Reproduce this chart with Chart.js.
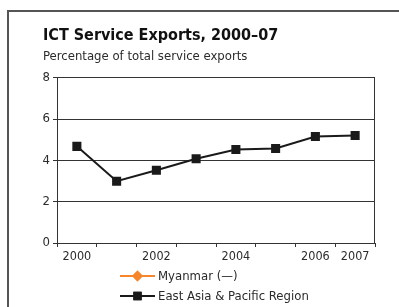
<!DOCTYPE html>
<html>
<head>
<meta charset="utf-8">
<script src="https://cdn.jsdelivr.net/npm/chart.js@4"></script>
<style>
  html, body { margin: 0; padding: 0; background: #fff; }
  #wrap { position: relative; width: 399px; height: 307px; overflow: hidden; }
  #frame { position: absolute; left: 7px; top: 10px; width: 400px; height: 320px;
           border-left: 2px solid #555; border-top: 2px solid #555; box-sizing: border-box; }
  canvas { position: absolute; left: 0; top: 0; }
</style>
</head>
<body>
<div id="wrap">
  <div id="frame"></div>
  <canvas id="c" width="399" height="307"></canvas>
</div>
<script>
const titleText = 'ICT Service Exports, 2000–07';
const subtitleText = 'Percentage of total service exports';
const years = ['2000', '2001', '2002', '2003', '2004', '2005', '2006', '2007'];
const shownYears = ['2000', '2002', '2004', '2006', '2007'];
const myanmarLabel = 'Myanmar (—)';
const myanmarValues = [null, null, null, null, null, null, null, null];
const eapLabel = 'East Asia & Pacific Region';
const eapValues = [4.68, 2.99, 3.52, 4.08, 4.53, 4.58, 5.16, 5.21];
const yTicks = [0, 2, 4, 6, 8];

const FONT = "'Liberation Sans Narrow', 'DejaVu Sans Condensed', 'Liberation Sans', sans-serif";
const TXT = '#2b2b2b';

const framePlugin = {
  id: 'frame',
  beforeDatasetsDraw(chart) {
    const a = chart.chartArea, ctx = chart.ctx, ys = chart.scales.y;
    const x = Math.round(a.right) - 0.5;
    ctx.save();
    ctx.strokeStyle = '#333';
    ctx.lineWidth = 1;
    ctx.beginPath();
    ctx.moveTo(x, ys.getPixelForValue(ys.max));
    ctx.lineTo(x, ys.getPixelForValue(ys.min));
    ctx.stroke();
    ctx.restore();
  }
};

const legendPlugin = {
  id: 'lineLegend',
  afterDraw(chart) {
    const ctx = chart.ctx, a = chart.chartArea;
    const x0 = a.left + 63, x1 = x0 + 35, tx = x1 + 3;
    chart.data.datasets.forEach((ds, i) => {
      const y = Math.round(a.bottom + 33 + i * 20);
      ctx.save();
      ctx.strokeStyle = ds.borderColor;
      ctx.lineWidth = 2;
      ctx.beginPath(); ctx.moveTo(x0, y); ctx.lineTo(x1, y); ctx.stroke();
      Chart.helpers.drawPoint(ctx, {
        pointStyle: ds.pointStyle, radius: ds.pointRadius - 0.5, rotation: 0,
        borderWidth: 1
      }, (x0 + x1) / 2, y);
      ctx.fillStyle = ds.pointBackgroundColor;
      ctx.strokeStyle = ds.pointBorderColor;
      ctx.fill(); ctx.stroke();
      ctx.fillStyle = TXT;
      ctx.font = '13px ' + FONT;
      ctx.textAlign = 'left';
      ctx.textBaseline = 'middle';
      ctx.fillText(ds.label, tx, y + 1);
      ctx.restore();
    });
  }
};

new Chart(document.getElementById('c'), {
  type: 'line',
  data: {
    labels: years,
    datasets: [
      {
        label: myanmarLabel, data: myanmarValues,
        borderColor: '#f7862a', backgroundColor: '#f7862a',
        pointStyle: 'rectRot', pointRadius: 4.5,
        pointBackgroundColor: '#f7862a', pointBorderColor: '#f7862a',
        borderWidth: 2
      },
      {
        label: eapLabel, data: eapValues,
        borderColor: '#1a1a1a', backgroundColor: '#1a1a1a',
        pointStyle: 'rect', pointRadius: 5,
        pointBackgroundColor: '#1a1a1a', pointBorderColor: '#1a1a1a',
        borderWidth: 2, tension: 0
      }
    ]
  },
  options: {
    responsive: false,
    animation: false,
    devicePixelRatio: 1,
    layout: { padding: { left: 43, right: 24, top: 0, bottom: 44 } },
    plugins: {
      legend: { display: false },
      tooltip: { enabled: false },
      title: {
        display: true, text: titleText, align: 'start', color: '#111',
        font: { family: FONT, size: 16, weight: 'bold', lineHeight: 1.2 },
        padding: { top: 26, bottom: 4 }
      },
      subtitle: {
        display: true, text: subtitleText, align: 'start', color: TXT,
        font: { family: FONT, size: 13, lineHeight: 1.2 },
        padding: { top: 0, bottom: 13 }
      }
    },
    scales: {
      x: {
        type: 'category',
        offset: true,
        grid: { offset: true, drawOnChartArea: false, drawTicks: true, tickLength: 4, color: '#333' },
        border: { color: '#333', width: 1 },
        ticks: {
          color: TXT, font: { family: FONT, size: 12.5 }, padding: 2,
          autoSkip: false, maxRotation: 0,
          callback(v) { const l = years[v]; return shownYears.includes(l) ? l : ''; }
        },
        afterFit(s) { s.height = 20; }
      },
      y: {
        min: 0, max: 8,
        afterBuildTicks(s) { s.ticks = yTicks.map(v => ({ value: v })); },
        grid: { color: '#333', lineWidth: 1, tickLength: 4 },
        border: { color: '#333', width: 1 },
        ticks: { color: TXT, font: { family: FONT, size: 13 }, padding: 3 },
        afterFit(s) { s.width = 14; }
      }
    }
  },
  plugins: [framePlugin, legendPlugin]
});
</script>
</body>
</html>
